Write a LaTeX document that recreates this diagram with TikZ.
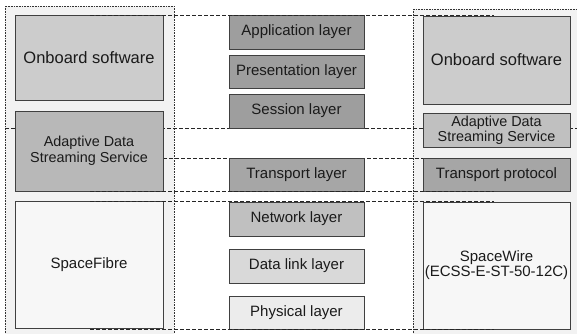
\documentclass[tikz,border=0pt]{standalone}
\usepackage{fontspec}
\setmainfont{Liberation Sans}
\definecolor{outerfill}{HTML}{F2F2F2}
\definecolor{cA}{HTML}{9E9E9E}
\definecolor{cT}{HTML}{A6A6A6}
\definecolor{cOnb}{HTML}{CCCCCC}
\definecolor{cLad}{HTML}{B8B8B8}
\definecolor{cRad}{HTML}{C0C0C0}
\definecolor{cNet}{HTML}{C0C0C0}
\definecolor{cDll}{HTML}{D9D9D9}
\definecolor{cPhy}{HTML}{ECECEC}
\definecolor{cWire}{HTML}{F7F7F7}
\definecolor{txt}{HTML}{1A1A1A}
\definecolor{edge}{HTML}{404040}
\begin{document}
\begin{tikzpicture}[x=1pt,y=-1pt,
  box/.style={draw=edge,line width=0.8pt,inner sep=0pt,text=txt,align=center,font=\fontsize{15}{15}\selectfont},
  bigtxt/.style={font=\fontsize{16.5}{18}\selectfont},
  outerbox/.style={draw=black!80,densely dotted,line width=0.6pt,fill=outerfill},
  sep/.style={draw=black!85,dashed,dash pattern=on 4pt off 2pt,line width=0.75pt}]
\useasboundingbox (0,0) rectangle (577,333);
% outer dotted groups
\path[outerbox] (5,6) rectangle (174,345);
\path[outerbox] (413,9) rectangle (590,345);
% separators behind boxes
\coordinate (s128a) at (5,128);
\coordinate (s128b) at (577,128);
\draw[sep] (s128a) -- (s128b);
\coordinate (s158a) at (163,158);
\coordinate (s158b) at (423,158);
\draw[sep] (s158a) -- (s158b);
% left column
\node[box,bigtxt,fill=cOnb,minimum width=148pt,minimum height=85pt] (lonb) at (89,57.5) {Onboard software};
\node[box,fill=cLad,minimum width=148pt,minimum height=80pt,font=\fontsize{14.4}{16}\selectfont] (ladss) at (89,151) {Adaptive Data\\Streaming Service};
\node[box,fill=cWire,minimum width=148pt,minimum height=127pt] (lsf) at (89,264.5) {SpaceFibre};
% middle column
\node[box,fill=cA,minimum width=135pt,minimum height=34pt] (app) at (296.5,32) {Application layer};
\node[box,fill=cA,minimum width=135pt,minimum height=33pt] (pres) at (296.5,71.5) {Presentation layer};
\node[box,fill=cA,minimum width=135pt,minimum height=34pt] (sess) at (296.5,111) {Session layer};
\node[box,fill=cT,minimum width=135pt,minimum height=33pt] (trans) at (296.5,174.5) {Transport layer};
\node[box,fill=cNet,minimum width=135pt,minimum height=34pt] (net) at (296.5,219) {Network layer};
\node[box,fill=cDll,minimum width=135pt,minimum height=34pt] (dll) at (296.5,266) {Data link layer};
\node[box,fill=cPhy,minimum width=135pt,minimum height=33pt] (phy) at (296.5,312.5) {Physical layer};
% right column
\node[box,bigtxt,fill=cOnb,minimum width=147pt,minimum height=88pt] (ronb) at (496.5,60) {Onboard software};
\node[box,fill=cRad,minimum width=147pt,minimum height=34pt,font=\fontsize{14.4}{15}\selectfont] (radss) at (496.5,130) {Adaptive Data\\Streaming Service};
\node[box,fill=cT,minimum width=147pt,minimum height=33pt] (rtp) at (496.5,174.5) {Transport protocol};
\node[box,fill=cWire,minimum width=147pt,minimum height=127pt] (rsw) at (496.5,265.5) {SpaceWire\\(ECSS-E-ST-50-12C)};
% separators along box edges
\coordinate (s15a) at (90,15);   \coordinate (s15b) at (494,15);
\coordinate (s191a) at (90,191); \coordinate (s191b) at (494,191);
\coordinate (s201a) at (90,201); \coordinate (s201b) at (494,201);
\coordinate (s329a) at (90,329); \coordinate (s329b) at (494,329);
\draw[sep] (s15a) -- (s15b);
\draw[sep] (s191a) -- (s191b);
\draw[sep] (s201a) -- (s201b);
\draw[sep] (s329a) -- (s329b);
\end{tikzpicture}
\end{document}
